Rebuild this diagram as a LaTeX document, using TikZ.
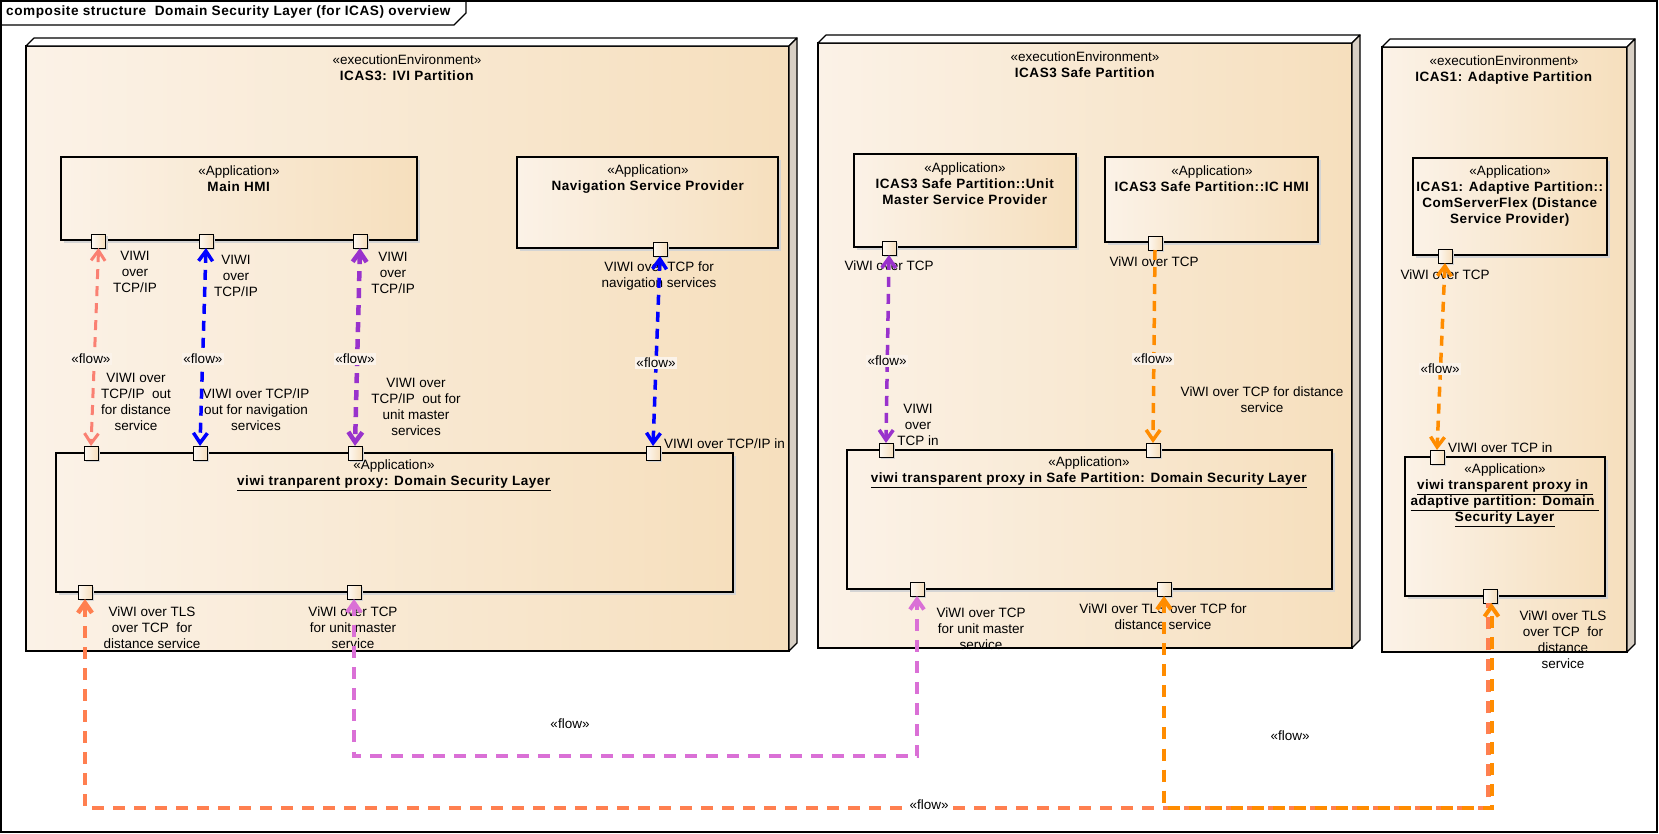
\documentclass[tikz,border=0pt]{standalone}
\usepackage{fontspec}
\setmainfont{Liberation Sans}[BoldFeatures={LetterSpace=4}]
\usetikzlibrary{arrows.meta,calc,shadows}
\definecolor{gl}{RGB}{251,242,231}
\definecolor{gr}{RGB}{246,223,189}
\definecolor{sidec}{RGB}{216,207,196}
\definecolor{salmonc}{RGB}{250,128,114}
\definecolor{bluec}{RGB}{0,0,255}
\definecolor{purplec}{RGB}{153,50,204}
\definecolor{orangec}{RGB}{255,140,0}
\definecolor{orchidc}{RGB}{218,112,214}
\definecolor{coralc}{RGB}{255,127,80}
\definecolor{flowbg}{RGB}{251,243,234}
\begin{document}
\begin{tikzpicture}[x=1pt,y=-1pt,font=\fontsize{13.5}{16}\selectfont,
  envbox/.style={draw=black,line width=1.2pt,left color=gl,right color=gr,anchor=north west,inner sep=0pt,outer sep=0pt},
  appbox/.style={draw=black,line width=1.2pt,left color=gl,right color=gr,anchor=north west,inner sep=0pt,outer sep=0pt,
    drop shadow={shadow xshift=3pt,shadow yshift=-3pt,fill=black!17,opacity=1}},
  port/.style={draw=black,line width=1pt,left color=white!50!gl,right color=gr,minimum size=14pt,inner sep=0pt,outer sep=0pt,
    drop shadow={shadow xshift=2pt,shadow yshift=-2pt,fill=black!17,opacity=1}},
  txt/.style={align=center,inner sep=0pt},
  plbl/.style={align=center,inner sep=0pt},
  flowlbl/.style={fill=flowbg,inner sep=1.5pt},
  flowout/.style={fill=white,inner sep=1.5pt},
  fl/.style={dash pattern=on 10pt off 7pt},
  flb/.style={dash pattern=on 12pt off 9pt},
  both/.style={{Straight Barb[length=10pt,width=14pt]}-{Straight Barb[length=10pt,width=14pt]}},
  endarr/.style={-{Straight Barb[length=10pt,width=14pt]}},
  startarr/.style={{Straight Barb[length=10pt,width=14pt]}-}
]
\useasboundingbox (0,0) rectangle (1659,833);
% frame
\draw[line width=1.3pt] (1,1) rectangle (1657,832);
\draw[line width=1.2pt] (1,25) -- (454,25) -- (466,13) -- (466,1);
\node[anchor=west,inner sep=0pt,font=\fontsize{13.6}{16}\selectfont\bfseries] (title) at (6,12) {composite structure\ \ Domain Security Layer (for ICAS) overview};

% execution environments
\node[envbox,minimum width=763pt,minimum height=605pt] (ivi) at (26,46) {};
\node[envbox,minimum width=534pt,minimum height=605pt] (safe) at (818,43) {};
\node[envbox,minimum width=245pt,minimum height=605pt] (adapt) at (1382,47) {};
\foreach \n in {ivi,safe,adapt}{
  \filldraw[fill=white,line width=1.2pt,line join=round] (\n.north west) -- ++(8,-8) -- ($(\n.north east)+(8,-8)$) -- (\n.north east) -- cycle;
  \filldraw[fill=sidec,line width=1.2pt,line join=round] (\n.north east) -- ++(8,-8) -- ($(\n.south east)+(8,-8)$) -- (\n.south east) -- cycle;
}
\node[txt] (tivi) at (407,68) {«executionEnvironment»\\\textbf{ICAS3: IVI Partition}};
\node[txt] (tsafe) at (1085,65) {«executionEnvironment»\\\textbf{ICAS3 Safe Partition}};
\node[txt] (tadapt) at (1504,70) {«executionEnvironment»\\\textbf{ICAS1: Adaptive Partition}};

% applications
\node[appbox,minimum width=356pt,minimum height=83pt] (mhmi) at (61,157) {};
\node[appbox,minimum width=261pt,minimum height=91pt] (nav) at (517,157) {};
\node[appbox,minimum width=677pt,minimum height=139pt] (dsl1) at (56,453) {};
\node[appbox,minimum width=222pt,minimum height=93pt] (um) at (854,154) {};
\node[appbox,minimum width=213pt,minimum height=85pt] (ichmi) at (1105,157) {};
\node[appbox,minimum width=485pt,minimum height=139pt] (dsl2) at (847,450) {};
\node[appbox,minimum width=194pt,minimum height=97pt] (csf) at (1413,158) {};
\node[appbox,minimum width=200pt,minimum height=139pt] (dsl3) at (1405,457) {};

\node[txt] (tmhmi) at (239,179) {«Application»\\\textbf{Main HMI}};
\node[txt] (tnav) at (648,179) {«Application»\\\textbf{Navigation Service Provider}};
\node[txt] (tdsl1) at (394,475) {«Application»\\\underline{\textbf{viwi tranparent proxy: Domain Security Layer}}};
\node[txt] (tum) at (965,184) {«Application»\\\textbf{ICAS3 Safe Partition::Unit}\\\textbf{Master Service Provider}};
\node[txt] (tichmi) at (1212,179) {«Application»\\\textbf{ICAS3 Safe Partition::IC HMI}};
\node[txt] (tdsl2) at (1089,472) {«Application»\\\underline{\textbf{viwi transparent proxy in Safe Partition: Domain Security Layer}}};
\node[txt] (tcsf) at (1510,196) {«Application»\\\textbf{ICAS1: Adaptive Partition::}\\\textbf{ComServerFlex (Distance}\\\textbf{Service Provider)}};
\node[txt] (tdsl3) at (1505,495) {«Application»\\\underline{\textbf{viwi transparent proxy in\ }}\\\underline{\textbf{adaptive partition: Domain\ }}\\\underline{\textbf{Security Layer}}};

% ports
\node[port] (p1) at (98.6,241) {};
\node[port] (p2) at (206,241) {};
\node[port] (p3) at (360,241) {};
\node[port] (pn) at (660,249) {};
\node[port] (q1) at (91,453) {};
\node[port] (q2) at (200,453) {};
\node[port] (q3) at (355,453) {};
\node[port] (q4) at (653,453) {};
\node[port] (q5) at (85,592) {};
\node[port] (q6) at (354,592) {};
\node[port] (pu) at (889,248) {};
\node[port] (pi) at (1155,243) {};
\node[port] (r1) at (886,450) {};
\node[port] (r2) at (1153,450) {};
\node[port] (r3) at (917,589) {};
\node[port] (r4) at (1164,589) {};
\node[port] (pc) at (1445,256) {};
\node[port] (s1) at (1437,457) {};
\node[port] (s2) at (1490,596) {};

% port labels
\node[plbl] (lp1) at (135,272) {VIWI\\over\\TCP/IP};
\node[plbl] (lp2) at (236,276) {VIWI\\over\\TCP/IP};
\node[plbl] (lp3) at (393,273) {VIWI\\over\\TCP/IP};
\node[plbl] (lq1) at (136,402) {VIWI over\\TCP/IP\ \ out\\for distance\\service};
\node[plbl] (lq2) at (256,410) {VIWI over TCP/IP\\out for navigation\\services};
\node[plbl] (lq3) at (416,407) {VIWI over\\TCP/IP\ \ out for\\unit master\\services};
\node[plbl] (lpn) at (659,276) {VIWI over TCP for\\navigation services};
\node[plbl,anchor=west] (lq4) at (664,444) {VIWI over TCP/IP in};
\node[plbl] (lq5) at (152,628) {ViWI over TLS\\over TCP\ \ for\\distance service};
\node[plbl] (lq6) at (353,628) {ViWI over TCP\\for unit master\\service};
\node[plbl] (lpu) at (889,266) {ViWI over TCP};
\node[plbl] (lpi) at (1154,262) {ViWI over TCP};
\node[plbl] (lr1) at (918,425) {VIWI\\over\\TCP in};
\node[plbl] (lr2) at (1262,400) {ViWI over TCP for distance\\service};
\node[plbl] (lr3) at (981,629) {ViWI over TCP\\for unit master\\service};
\node[plbl] (lr4) at (1163,617) {ViWI over TLS over TCP for\\distance service};
\node[plbl] (lpc) at (1445,275) {ViWI over TCP};
\node[plbl,anchor=west] (ls1) at (1448,448) {VIWI over TCP in};
\node[plbl] (ls2) at (1563,640) {ViWI over TLS\\over TCP\ \ for\\distance\\service};

% flows
\draw[fl,both,salmonc,line width=3pt] (p1.south) -- (q1.north);
\draw[fl,both,bluec,line width=3.5pt] (p2.south) -- (q2.north);
\draw[fl,both,purplec,line width=4.5pt] (p3.south) -- (q3.north);
\draw[fl,both,bluec,line width=3.5pt] (pn.south) -- (q4.north);
\draw[fl,both,purplec,line width=3.5pt] (pu.south) -- (r1.north);
\draw[fl,endarr,orangec,line width=3.5pt] (pi.south) -- (r2.north);
\draw[fl,both,orangec,line width=3.5pt] (pc.south) -- (s1.north);
\coordinate (mb) at (0,756);
\coordinate (cb) at (0,808);
\draw[flb,both,orchidc,line width=4pt] (q6.south) -- (q6.south |- mb) -- (r3.south |- mb) -- (r3.south);
\draw[flb,startarr,coralc,line width=4.5pt] (q5.south) -- (q5.south |- cb) -- ([xshift=-1.5pt]s2.south |- cb) -- ([xshift=-1.5pt]s2.south);
\draw[flb,both,orangec,line width=4pt] (r4.south) -- (r4.south |- cb) -- ([xshift=1.5pt]s2.south |- cb) -- ([xshift=1.5pt]s2.south);

% flow labels
\node[flowlbl] (f1) at (91,359) {«flow»};
\node[flowlbl] (f2) at (203,359) {«flow»};
\node[flowlbl] (f3) at (355,359) {«flow»};
\node[flowlbl] (f4) at (656,363) {«flow»};
\node[flowlbl] (f5) at (887,361) {«flow»};
\node[flowlbl] (f6) at (1153,359) {«flow»};
\node[flowlbl] (f7) at (1440,369) {«flow»};
\node[flowout] (f8) at (570,724) {«flow»};
\node[flowout] (f9) at (1290,736) {«flow»};
\node[flowout] (f10) at (929,805) {«flow»};
\end{tikzpicture}
\end{document}
